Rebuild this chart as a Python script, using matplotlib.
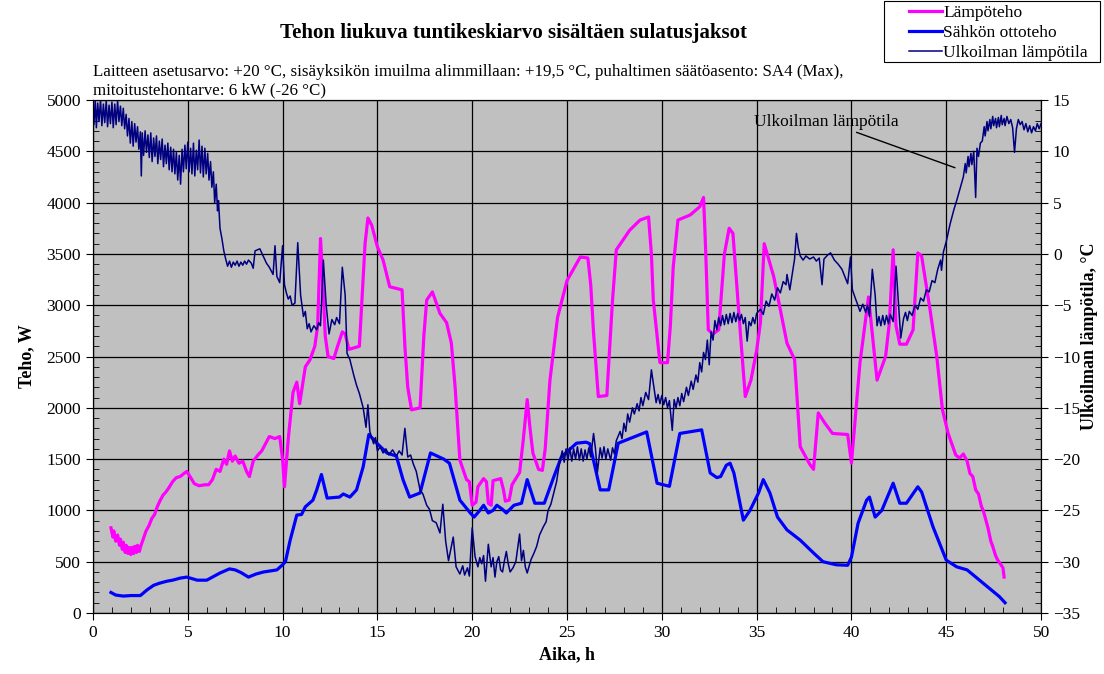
import matplotlib.pyplot as plt
from matplotlib.ticker import MultipleLocator
from matplotlib.patches import Rectangle

plt.rcParams['font.family'] = ['Liberation Serif', 'DejaVu Serif']

# Lämpöteho (W)
heat_h = [0.95, 1.05, 1.1, 1.2, 1.3, 1.4, 1.45, 1.55, 1.6, 1.7, 1.75, 1.85, 1.9, 2.0, 2.05, 2.15,
          2.2, 2.3, 2.35, 2.45, 2.5, 2.65, 2.8, 2.95, 3.1, 3.25,
          3.4, 3.55, 3.7, 3.85, 4.0, 4.2, 4.4, 4.6, 4.8, 4.95, 5.15, 5.35, 5.6, 5.9, 6.1, 6.3, 6.5,
          6.7, 6.9, 7.05, 7.2, 7.35, 7.5, 7.7, 7.9, 8.1, 8.25, 8.45, 8.7, 8.9, 9.1, 9.3, 9.6, 9.85,
          10.0, 10.1, 10.3, 10.55, 10.75, 10.9, 11.2, 11.45, 11.7, 11.85, 12.0, 12.1, 12.25, 12.4,
          12.7, 12.9, 13.15, 13.3, 13.5, 14.05, 14.2, 14.35, 14.5, 14.7, 15.0, 15.3, 15.65, 16.3,
          16.45, 16.6, 16.8, 17.25, 17.45, 17.6, 17.9, 18.3, 18.65, 18.9, 19.1, 19.35, 19.7, 19.85,
          20.0, 20.2, 20.3, 20.6, 20.75, 20.85, 21.0, 21.1, 21.5, 21.65, 21.75, 21.95, 22.1, 22.5,
          22.7, 22.9, 23.05, 23.2, 23.5, 23.7, 23.85, 24.1, 24.5, 25.0, 25.7, 26.1, 26.25, 26.4,
          26.65, 27.1, 27.4, 27.6, 28.3, 28.85, 29.3, 29.45, 29.55, 29.9, 30.3, 30.45, 30.6, 30.85,
          31.5, 32.0, 32.2, 32.3, 32.45, 32.7, 33.0, 33.3, 33.55, 33.75, 34.1, 34.4, 34.7, 35.0,
          35.2, 35.4, 35.9, 36.2, 36.6, 37.0, 37.3, 37.8, 38.0, 38.25, 38.6, 39.0, 39.8, 40.0,
          40.45, 40.9, 41.15, 41.35, 41.8, 42.0, 42.2, 42.35, 42.55, 42.9, 43.25, 43.5, 43.7,
          44.15, 44.5, 44.8, 45.1, 45.5, 45.7, 45.9, 46.1, 46.25, 46.4, 46.55, 46.7, 46.85, 46.95,
          47.1, 47.2, 47.35, 47.45, 47.6, 47.7, 47.85, 47.99, 48.05]
heat_w = [830, 740, 800, 700, 760, 660, 720, 620, 690, 590, 660, 580, 640, 570, 640, 580,
          650, 590, 660, 600, 640, 720, 800, 850, 920, 960,
          1040, 1100, 1150, 1180, 1220, 1280, 1320, 1330, 1360, 1380, 1320, 1260, 1240, 1250, 1250,
          1300, 1400, 1380, 1500, 1450, 1580, 1480, 1530, 1460, 1480, 1380, 1330, 1480, 1540, 1580,
          1650, 1720, 1700, 1720, 1500, 1230, 1700, 2150, 2250, 2040, 2400, 2470, 2600, 2800, 3650,
          3300, 2700, 2500, 2480, 2600, 2740, 2720, 2570, 2600, 3100, 3600, 3850, 3780, 3570, 3440,
          3180, 3150, 2600, 2200, 1980, 2000, 2700, 3050, 3130, 2920, 2830, 2630, 2200, 1490, 1300,
          1280, 1050, 1080, 1230, 1310, 1280, 1070, 1050, 1290, 1310, 1200, 1090, 1100, 1250, 1370,
          1700, 2080, 1800, 1560, 1400, 1390, 1600, 2270, 2880, 3240, 3470, 3460, 3200, 2730, 2110,
          2120, 3050, 3540, 3730, 3830, 3860, 3500, 3050, 2440, 2440, 2800, 3370, 3830, 3880, 3960,
          4050, 3600, 2760, 2720, 2760, 3500, 3750, 3700, 2830, 2110, 2270, 2560, 2830, 3600, 3280,
          3000, 2630, 2470, 1620, 1450, 1400, 1950, 1850, 1750, 1740, 1460, 2440, 3080, 2630, 2270,
          2500, 2830, 3540, 2800, 2620, 2620, 2760, 3510, 3480, 2950, 2500, 1980, 1750, 1540, 1510,
          1550, 1480, 1360, 1330, 1200, 1160, 1040, 1000, 900, 830, 700, 650, 560, 520, 480, 440, 350]

# Sähkön ottoteho (W)
elec_h = [0.95, 1.2, 1.6, 2.0, 2.5, 2.85, 3.2, 3.5, 3.9, 4.2, 4.6, 4.95, 5.5, 6.0, 6.4, 6.7, 7.2,
          7.5, 7.8, 8.2, 8.6, 9.0, 9.7, 10.0, 10.15, 10.4, 10.75, 11.0, 11.2, 11.6, 11.8, 12.05,
          12.35, 13.0, 13.2, 13.55, 13.9, 14.25, 14.55, 15.0, 15.5, 16.0, 16.35, 16.7, 17.25, 17.8,
          18.5, 18.8, 19.35, 19.9, 20.1, 20.4, 20.6, 20.85, 21.1, 21.3, 21.6, 21.8, 22.2, 22.6,
          22.9, 23.3, 23.8, 24.3, 24.7, 25.5, 26.0, 26.2, 26.75, 27.2, 27.7, 29.2, 29.75, 30.4,
          30.95, 32.1, 32.55, 32.9, 33.1, 33.4, 33.6, 33.8, 34.3, 34.65, 35.1, 35.35, 35.7, 36.1,
          36.6, 37.3, 38.0, 38.5, 39.2, 39.8, 40.0, 40.35, 40.8, 40.95, 41.25, 41.6, 42.2, 42.55,
          42.9, 43.5, 43.7, 44.3, 45.0, 45.55, 46.1, 46.95, 47.8, 48.1]
elec_w = [200, 175, 165, 170, 170, 225, 270, 290, 310, 320, 340, 350, 320, 320, 360, 390, 430,
          420, 395, 350, 380, 400, 420, 470, 500, 710, 955, 960, 1035, 1100, 1200, 1350, 1120,
          1130, 1160, 1130, 1200, 1425, 1740, 1650, 1560, 1530, 1300, 1130, 1170, 1560, 1500,
          1460, 1100, 975, 935, 1000, 1050, 975, 1000, 1050, 1010, 975, 1050, 1070, 1300, 1070,
          1070, 1325, 1520, 1655, 1665, 1650, 1200, 1200, 1655, 1765, 1265, 1235, 1750, 1785,
          1365, 1320, 1330, 1440, 1460, 1365, 905, 1000, 1170, 1300, 1170, 935, 810, 710, 585,
          500, 470, 465, 545, 875, 1100, 1130, 935, 1000, 1265, 1070, 1070, 1230, 1180, 840, 515,
          450, 420, 290, 160, 100]

# Ulkoilman lämpötila (°C)
temp_h = [0.0, 0.05, 0.12, 0.18, 0.25, 0.32, 0.4, 0.47, 0.55, 0.62, 0.7, 0.77, 0.85, 0.92, 1.0,
          1.07, 1.15, 1.22, 1.3, 1.37, 1.45, 1.52, 1.6, 1.67, 1.75, 1.82, 1.9, 1.97, 2.05, 2.12,
          2.2, 2.27, 2.35, 2.42, 2.5, 2.55, 2.6, 2.67, 2.75, 2.82, 2.9, 2.97, 3.05, 3.12, 3.2,
          3.27, 3.35, 3.42, 3.5, 3.57, 3.65, 3.72, 3.8, 3.87, 3.95, 4.02, 4.1, 4.17, 4.25, 4.32,
          4.4, 4.47, 4.55, 4.62, 4.7, 4.77, 4.85, 4.92, 5.0, 5.07, 5.15, 5.22, 5.3, 5.37, 5.45,
          5.52, 5.6, 5.67, 5.75, 5.82, 5.9, 5.97, 6.05, 6.12, 6.2, 6.27, 6.35, 6.42, 6.5, 6.57,
          6.62, 6.7, 6.8, 6.9, 7.0, 7.1, 7.2, 7.3, 7.4, 7.5, 7.6, 7.7, 7.8, 7.9, 8.0, 8.1, 8.2,
          8.35, 8.45, 8.55, 8.8, 9.0, 9.15, 9.3, 9.5, 9.6, 9.7, 9.85, 10.0, 10.1, 10.2, 10.3,
          10.4, 10.5, 10.65, 10.8, 10.95, 11.1, 11.2, 11.3, 11.4, 11.5, 11.65, 11.8, 11.9, 12.0,
          12.15, 12.3, 12.45, 12.6, 12.75, 12.85, 13.0, 13.15, 13.3, 13.4, 13.55, 13.75, 13.9,
          14.05, 14.25, 14.4, 14.5, 14.6, 14.8, 14.9, 15.0, 15.15, 15.3, 15.45, 15.6, 15.8, 16.0,
          16.15, 16.3, 16.45, 16.6, 16.75, 16.9, 17.05, 17.25, 17.4, 17.6, 17.75, 17.9, 18.1,
          18.3, 18.45, 18.6, 18.75, 19.0, 19.15, 19.35, 19.5, 19.6, 19.75, 19.85, 20.0, 20.15,
          20.3, 20.4, 20.5, 20.6, 20.7, 20.85, 21.0, 21.1, 21.2, 21.3, 21.4, 21.5, 21.6, 21.7,
          21.8, 21.9, 22.0, 22.15, 22.3, 22.5, 22.6, 22.7, 22.8, 22.9, 23.1, 23.25, 23.4, 23.55,
          23.75, 23.9, 24.0, 24.15, 24.3, 24.45, 24.6, 24.75, 24.85, 24.95, 25.05, 25.15, 25.25,
          25.35, 25.45, 25.55, 25.65, 25.75, 25.85, 25.95, 26.05, 26.15, 26.25, 26.4, 26.5, 26.6,
          26.75, 26.85, 26.95, 27.05, 27.15, 27.3, 27.4, 27.5, 27.6, 27.8, 27.9, 28.0, 28.1,
          28.2, 28.3, 28.45, 28.55, 28.7, 28.8, 28.9, 29.0, 29.15, 29.3, 29.45, 29.6, 29.7, 29.8,
          29.9, 30.0, 30.1, 30.2, 30.3, 30.4, 30.55, 30.65, 30.75, 30.85, 30.95, 31.05, 31.15,
          31.3, 31.4, 31.55, 31.65, 31.8, 31.9, 32.0, 32.1, 32.2, 32.3, 32.4, 32.5, 32.6, 32.7,
          32.8, 32.9, 33.0, 33.1, 33.2, 33.3, 33.4, 33.5, 33.6, 33.7, 33.8, 33.9, 34.0, 34.1,
          34.2, 34.3, 34.4, 34.5, 34.6, 34.7, 34.8, 34.9, 35.0, 35.2, 35.35, 35.5, 35.65, 35.8,
          35.95, 36.1, 36.25, 36.4, 36.55, 36.6, 36.75, 37.0, 37.1, 37.2, 37.3, 37.45, 37.6,
          37.8, 38.0, 38.15, 38.3, 38.45, 38.55, 38.75, 38.9, 39.1, 39.3, 39.5, 39.65, 39.8,
          39.95, 40.05, 40.2, 40.3, 40.45, 40.6, 40.75, 40.85, 40.95, 41.1, 41.25, 41.35, 41.45,
          41.55, 41.65, 41.75, 41.85, 41.95, 42.05, 42.2, 42.35, 42.5, 42.6, 42.75, 42.85, 42.95,
          43.05, 43.2, 43.35, 43.5, 43.65, 43.8, 43.95, 44.1, 44.25, 44.4, 44.55, 44.7, 44.75,
          44.85, 45.0, 45.2, 45.4, 45.55, 45.7, 45.9, 46.0, 46.05, 46.15, 46.2, 46.3, 46.35,
          46.45, 46.55, 46.62, 46.7, 46.8, 46.9, 47.0, 47.05, 47.15, 47.2, 47.3, 47.35, 47.45,
          47.5, 47.6, 47.65, 47.75, 47.8, 47.9, 47.95, 48.05, 48.1, 48.2, 48.3, 48.4, 48.5, 48.6,
          48.7, 48.8, 48.9, 49.0, 49.1, 49.2, 49.3, 49.4, 49.5, 49.6, 49.7, 49.8, 49.9, 50.0]
temp_c = [14.8, 12.6, 14.9, 12.3, 14.7, 12.9, 15.0, 12.5, 14.6, 12.8, 14.9, 12.4, 14.5, 12.7, 14.8,
          12.3, 14.6, 12.6, 14.9, 12.9, 14.4, 12.5, 14.2, 12.2, 13.6, 11.5, 13.2, 10.8, 12.9, 10.5,
          12.7, 10.9, 12.4, 10.2, 11.9, 7.6, 11.8, 9.6, 12.0, 9.9, 11.6, 9.4, 11.8, 9.0, 11.3, 9.5,
          11.5, 8.8, 11.0, 9.2, 11.2, 8.5, 10.6, 8.8, 10.8, 8.2, 10.4, 8.0, 10.2, 7.8, 9.9, 7.2,
          9.6, 6.8, 10.2, 8.0, 10.6, 8.3, 10.9, 8.0, 10.3, 7.8, 10.8, 7.6, 10.1, 8.2, 11.1, 7.9,
          10.5, 7.5, 10.3, 7.8, 9.8, 7.2, 9.0, 6.5, 8.0, 5.0, 6.8, 4.2, 5.2, 2.5, 1.5, 0.3,
          -0.5, -1.2, -0.7, -1.3, -0.8, -1.1, -0.7, -1.2, -0.8, -1.1, -0.7, -1.0, -0.6,
          -0.9, -1.4, 0.3, 0.5, -0.3, -0.9, -1.3, -2.0, 0.8, -2.2, -2.8, 0.8, -3.0, -3.8, -4.4,
          -4.1, -5.0, -4.8, 1.1, -4.0, -6.1, -5.6, -7.3, -6.8, -7.6, -7.0, -7.4, -6.7, -7.0,
          -0.6, -5.0, -7.8, -6.4, -6.9, -6.2, -6.8, -1.3, -4.0, -9.7, -10.3, -11.8, -12.8,
          -13.6, -15.0, -16.9, -14.7, -17.3, -18.5, -17.9, -19.2, -18.8, -19.4, -19.0, -19.6,
          -19.1, -19.7, -19.2, -19.6, -17.0, -19.8, -19.6, -20.5, -21.2, -23.0, -23.4, -24.5,
          -24.9, -26.0, -26.2, -27.2, -24.4, -28.0, -29.9, -27.6, -30.5, -31.2, -30.4, -31.3,
          -30.6, -31.4, -26.7, -29.5, -30.5, -29.6, -30.2, -29.4, -31.9, -28.3, -30.5, -29.6,
          -31.5, -30.0, -29.5, -30.8, -31.0, -29.9, -29.0, -30.2, -31.0, -30.6, -30.0, -27.3,
          -29.9, -28.9, -30.5, -31.1, -29.8, -29.2, -28.5, -27.4, -26.6, -26.1, -25.0, -24.4,
          -23.3, -22.2, -20.4, -19.2, -20.3, -19.0, -20.1, -18.9, -20.2, -19.0, -20.0, -18.8,
          -20.1, -19.0, -20.2, -19.1, -20.0, -18.9, -19.8, -17.5, -19.0, -21.3, -18.9, -19.9,
          -18.8, -20.0, -19.0, -20.1, -18.9, -19.5, -18.2, -17.3, -18.0, -16.5, -17.3, -15.6,
          -16.4, -15.0, -15.6, -14.6, -15.3, -14.0, -14.8, -13.5, -14.2, -11.3, -13.2, -14.5,
          -13.7, -14.6, -13.8, -14.7, -14.0, -15.0, -14.3, -17.2, -14.2, -15.0, -14.0, -14.8,
          -13.6, -14.4, -13.0, -13.8, -12.4, -13.2, -11.8, -12.5, -10.6, -11.5, -9.6, -10.3,
          -8.4, -10.8, -7.6, -8.4, -6.5, -7.4, -6.2, -7.0, -6.0, -6.9, -5.9, -6.8, -5.8, -6.7,
          -5.7, -6.6, -5.8, -6.5, -5.9, -6.8, -6.2, -8.5, -6.6, -7.0, -6.2, -6.8, -5.8, -5.4,
          -5.9, -4.6, -5.1, -3.9, -4.5, -3.3, -3.8, -2.7, -3.0, -2.0, -3.5, -0.5, 2.0, 0.6,
          -0.2, -0.6, -0.2, -0.5, -0.3, -0.7, -0.4, -3.0, -0.5, -0.1, 0.1, -0.6, -1.0, -1.5,
          -2.2, -2.9, -0.3, -3.5, -4.3, -4.8, -5.6, -4.9, -5.7, -5.0, -6.1, -1.5, -4.0, -7.0,
          -6.1, -7.0, -6.0, -6.9, -6.0, -6.8, -5.9, -6.6, -1.2, -5.5, -8.2, -6.3, -5.7, -6.5,
          -5.6, -6.0, -5.0, -5.4, -4.3, -4.6, -3.5, -3.7, -2.6, -2.8, -1.5, -0.6, -1.6, 0.2,
          1.2, 2.9, 4.3, 5.2, 6.2, 7.5, 8.8, 7.9, 9.5, 8.5, 9.8, 8.7, 10.0, 5.5, 10.3, 9.5,
          10.8, 11.0, 12.4, 11.5, 12.9, 12.0, 13.1, 12.2, 13.4, 12.5, 13.2, 12.3, 13.3, 12.4,
          13.5, 12.6, 13.2, 12.5, 13.4, 12.7, 13.1, 12.3, 9.9, 12.2, 13.1, 12.6, 12.9, 12.1,
          12.7, 11.9, 12.5, 11.8, 12.4, 12.0, 12.7, 12.2, 12.7]

fig = plt.figure(figsize=(11.04, 6.74), dpi=100)
ax = fig.add_axes([0.0842, 0.0905, 0.8588, 0.7611])
ax.set_facecolor('#c0c0c0')
ax.plot(heat_h, heat_w, color='#ff00ff', lw=2.3, label='Lämpöteho')
ax.plot(elec_h, elec_w, color='#0000ff', lw=2.3, label='Sähkön ottoteho')
ax.set_xlim(0, 50)
ax.set_ylim(0, 5000)
ax.xaxis.set_major_locator(MultipleLocator(5))
ax.xaxis.set_minor_locator(MultipleLocator(1))
ax.yaxis.set_major_locator(MultipleLocator(500))
ax.yaxis.set_minor_locator(MultipleLocator(100))
ax.grid(True, which='major', color='black', lw=0.9)
ax.tick_params(which='major', direction='out', length=5, labelsize=12.5)
ax.tick_params(which='minor', direction='in', length=4)
ax.set_xlabel('Aika, h', fontsize=13, fontweight='bold')
ax.set_ylabel('Teho, W', fontsize=13, fontweight='bold', labelpad=8)

ax2 = ax.twinx()
ax2.plot(temp_h, temp_c, color='#000080', lw=1.1, label='Ulkoilman lämpötila')
ax2.set_ylim(-35, 15)
ax2.yaxis.set_major_locator(MultipleLocator(5))
ax2.yaxis.set_minor_locator(MultipleLocator(1))
ax2.tick_params(which='major', direction='out', length=5, labelsize=12.5)
ax2.tick_params(which='minor', direction='in', length=4)
ax2.set_ylabel('Ulkoilman lämpötila, °C', fontsize=13, fontweight='bold')
ax2.yaxis.set_label_coords(1.042, 0.54)
ax2.annotate('Ulkoilman lämpötila', xy=(45.46, 8.4), xytext=(42.5, 12.9),
             ha='right', va='center', fontsize=12.5,
             arrowprops=dict(arrowstyle='-', color='black', lw=1, shrinkA=0, shrinkB=0))

fig.text(0.465, 0.951, 'Tehon liukuva tuntikeskiarvo sisältäen sulatusjaksot',
         ha='center', va='center', fontsize=15, fontweight='bold')
fig.text(0.0842, 0.893, 'Laitteen asetusarvo: +20 °C, sisäyksikön imuilma alimmillaan: +19,5 °C, '
         'puhaltimen säätöasento: SA4 (Max),', ha='left', va='center', fontsize=12.2)
fig.text(0.0842, 0.866, 'mitoitustehontarve: 6 kW (-26 °C)', ha='left', va='center', fontsize=12.2)

h1, l1 = ax.get_legend_handles_labels()
h2, l2 = ax2.get_legend_handles_labels()
fig.legend(h1 + h2, l1 + l2, loc='upper right', bbox_to_anchor=(1088 / 1104, 1 - 5 / 674),
           fontsize=12.5, frameon=False, handlelength=1.9, handletextpad=0.1,
           borderpad=0, labelspacing=0.22, borderaxespad=0)
fig.patches.append(Rectangle((884 / 1104, 1 - 62 / 674), 216 / 1104, 61 / 674,
                             transform=fig.transFigure, fill=False, edgecolor='black', lw=0.8))

plt.savefig('out.png', dpi=100)
